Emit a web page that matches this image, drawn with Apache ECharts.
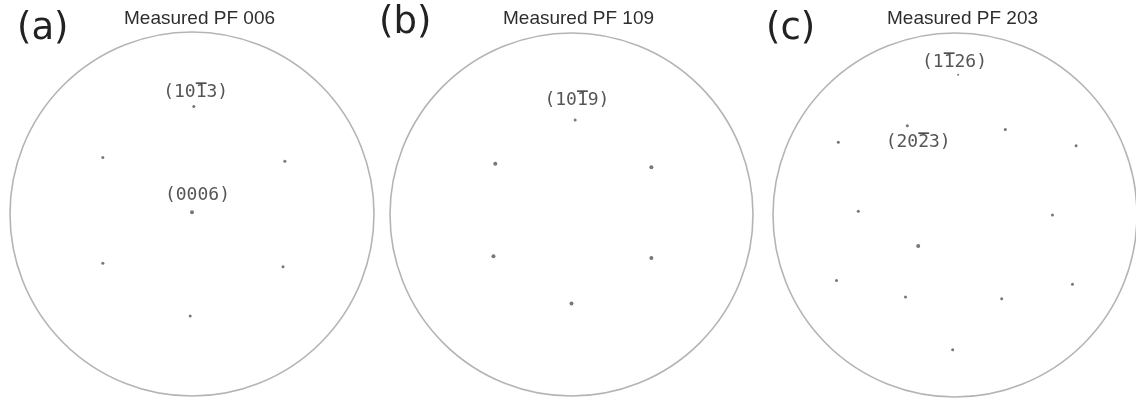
<!DOCTYPE html>
<html>
<head>
<meta charset="utf-8">
<script src="https://cdn.jsdelivr.net/npm/echarts@6/dist/echarts.min.js"></script>
<style>html,body{margin:0;padding:0;background:#fff;}#c{width:1136px;height:398px;}</style>
</head>
<body>
<div id="c"></div>
<script>
// Pole-figure spots, in units of the pole-figure radius (x east, y north)
const panelTitles = ['Measured PF 006', 'Measured PF 109', 'Measured PF 203'];
const panelTags = ['(a)', '(b)', '(c)'];

const pfA_points = [[0.01,0.59],[-0.49,0.31],[0.51,0.29],[0.00,0.01],[-0.49,-0.27],[0.50,-0.29],[-0.01,-0.56]];
const pfA_sizes  = [3,3,3,4,3,3,3];
const pfA_labelNames = ['(1013)', '(0006)'];
const pfA_labelBar   = [3, -1];           // index of the digit carrying the overbar
const pfA_labelPos   = [[0.02,0.67],[0.03,0.10]];

const pfB_points = [[0.02,0.52],[-0.42,0.28],[0.44,0.26],[-0.43,-0.23],[0.44,-0.24],[0.00,-0.49]];
const pfB_sizes  = [3,4,4,4,4,4];
const pfB_labelNames = ['(1019)'];
const pfB_labelBar   = [3];
const pfB_labelPos   = [[0.03,0.63]];

const pfC_points = [[0.02,0.77],[-0.26,0.49],[0.28,0.47],[-0.64,0.40],[0.67,0.38],[-0.53,0.02],[0.54,0.00],
                    [-0.20,-0.17],[-0.65,-0.36],[0.65,-0.38],[-0.27,-0.45],[0.26,-0.46],[-0.01,-0.74]];
const pfC_sizes  = [2,3,3,3,3,3,3,4,3,3,3,3,3];
const pfC_labelNames = ['(1126)', '(2023)'];
const pfC_labelBar   = [2, 3];
const pfC_labelPos   = [[0.00,0.84],[-0.20,0.40]];

// layout (pixels)
const layout = [
  {cx:192,   cy:214,   r:182,   titleLeft:124, tagLeft:17,  tagTop:11},
  {cx:571.5, cy:214.5, r:181.5, titleLeft:503, tagLeft:379, tagTop:5},
  {cx:955,   cy:215,   r:182,   titleLeft:887, tagLeft:766, tagTop:11}
];
const pts = [pfA_points, pfB_points, pfC_points];
const sizes = [pfA_sizes, pfB_sizes, pfC_sizes];
const lblNames = [pfA_labelNames, pfB_labelNames, pfC_labelNames];
const lblBars = [pfA_labelBar, pfB_labelBar, pfC_labelBar];
const lblPos = [pfA_labelPos, pfB_labelPos, pfC_labelPos];

const BAR_LH = 16, TXT_LH = 18;
function labelText(name, barIdx) {
  if (barIdx < 0) return '{t|' + name + '}';
  let bar = '';
  for (let k = 0; k < name.length; k++) bar += (k === barIdx ? '_' : ' ');
  return '{bar|' + bar + '}\n{t|' + name + '}';
}

const chart = echarts.init(document.getElementById('c'), null, {renderer:'canvas'});
const option = {
  backgroundColor:'#fff',
  animation:false,
  title: [],
  grid: [], xAxis: [], yAxis: [], polar: [], angleAxis: [], radiusAxis: [], series: []
};
layout.forEach((L, i) => {
  option.title.push({text: panelTitles[i], left: L.titleLeft, top: 9, padding: 0,
    textStyle:{fontFamily:'Liberation Sans', fontSize:19, fontWeight:'normal', color:'#2e2e2e'}});
  option.title.push({text: panelTags[i], left: L.tagLeft, top: L.tagTop, padding: 0,
    textStyle:{fontFamily:'DejaVu Sans', fontSize:37, fontWeight:'normal', color:'#222'}});
  option.grid.push({left: L.cx - L.r, top: L.cy - L.r, width: 2*L.r, height: 2*L.r});
  option.xAxis.push({type:'value', gridIndex:i, min:-1, max:1, show:false});
  option.yAxis.push({type:'value', gridIndex:i, min:-1, max:1, show:false});
  option.polar.push({center:[L.cx, L.cy], radius: L.r});
  option.angleAxis.push({polarIndex:i, type:'value', min:0, max:360, startAngle:90,
    axisLine:{show:true, lineStyle:{color:'#b4b4b4', width:1.6}},
    axisTick:{show:false}, axisLabel:{show:false}, splitLine:{show:false}});
  option.radiusAxis.push({polarIndex:i, type:'value', min:0, max:1, show:false,
    axisLine:{show:false}, axisTick:{show:false}, axisLabel:{show:false}, splitLine:{show:false}});
  option.series.push({type:'scatter', xAxisIndex:i, yAxisIndex:i,
    data: pts[i].map((p, k) => ({value:p, symbolSize: sizes[i][k]})),
    itemStyle:{color:'#555'}, silent:true});
  option.series.push({type:'scatter', xAxisIndex:i, yAxisIndex:i, symbolSize:0,
    data: lblNames[i].map((n, k) => ({name:n, value: lblPos[i][k],
      label:{formatter: labelText(n, lblBars[i][k]),
             offset: [0, lblBars[i][k] < 0 ? 0 : -(BAR_LH) / 2]}})),
    label:{show:true, position:'inside', color:'#2a2a2a',
      rich:{
        bar:{fontFamily:'DejaVu Sans Mono', fontSize:18, fontWeight:'bold', lineHeight:BAR_LH, color:'#222'},
        t:{fontFamily:'DejaVu Sans Mono', fontSize:18, lineHeight:TXT_LH, color:'#2a2a2a'}
      }}, silent:true});
});
chart.setOption(option);
</script>
</body>
</html>
